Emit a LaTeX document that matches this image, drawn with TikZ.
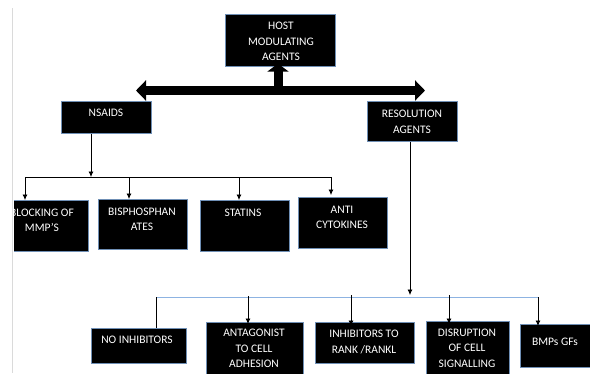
\documentclass[tikz,border=0pt]{standalone}
\usepackage{fontspec}
\setmainfont{Carlito}
\usetikzlibrary{arrows.meta}
\definecolor{edge}{HTML}{6F8FB5}
\definecolor{busblue}{HTML}{8DB3E2}
\definecolor{pagegray}{HTML}{DADADA}

\begin{document}
\begin{tikzpicture}[x=1pt,y=-1pt,
    blk/.style={draw=edge,fill=black,line width=0.6pt,anchor=north west,inner sep=0pt},
    lbl/.style={text=white,align=center,inner sep=0pt,font=\fontsize{11.5}{15.5}\selectfont},
    arr/.style={-{Latex[length=5.5pt,width=5pt]},line width=0.7pt},
    fat/.style={line width=9pt}]
    \useasboundingbox (0,0) rectangle (590,373);
    % page edge
    \draw[pagegray,line width=1.5pt] (12.5,8) -- (12.5,373);
    \begin{scope}
    \clip (14,0) rectangle (590,373);
    % Top box
    \node[blk,minimum width=110pt,minimum height=52pt] (host) at (225,14) {};
    \node[lbl] (hostT) at (281,41.5) {HOST\\MODULATING\\AGENTS};
    % Two way arrow
    \coordinate (al) at (136,90.5);
    \coordinate (ar) at (425,90.5);
    \coordinate (hub) at (278,90.5);
    \draw[fat,{Triangle[width=20pt,length=10pt]}-{Triangle[width=20pt,length=10pt]}] (al) -- (ar);
    \draw[fat,-{Triangle[width=21pt,length=8pt]},shorten >=-3pt] (hub) -- (hub |- host.south);
    % Second level
    \node[blk,minimum width=90pt,minimum height=32pt] (nsaids) at (61,101) {};
    \node[lbl] (nsaidsT) at (106,113) {NSAIDS};
    \node[blk,minimum width=90pt,minimum height=40pt] (resol) at (367,101) {};
    \node[lbl] (resolT) at (412,122) {RESOLUTION\\AGENTS};
    % NSAIDS branch
    \coordinate (n0) at (91,177);
    \coordinate (b1l) at (25,177);
    \coordinate (b1r) at (331,177);
    \coordinate (t1) at (129,177);
    \coordinate (t2) at (239,177);
    \draw[arr] (nsaids.south -| n0) -- (n0);
    \draw[line width=0.7pt] (b1l) -- (b1r);
    \node[blk,minimum width=92pt,minimum height=51pt] (mmp) at (-4,200) {};
    \node[lbl] (mmpT) at (42,220.5) {BLOCKING OF\\MMP’S};
    \node[blk,minimum width=89pt,minimum height=50pt] (bisph) at (98,199) {};
    \node[lbl] (bisphT) at (142,219.5) {BISPHOSPHAN\\ATES};
    \node[blk,minimum width=89pt,minimum height=51pt] (statins) at (200,200) {};
    \node[lbl] (statinsT) at (243,213) {STATINS};
    \node[blk,minimum width=89pt,minimum height=51pt] (anticyto) at (298,197) {};
    \node[lbl] (anticytoT) at (342,217.5) {ANTI\\CYTOKINES};
    \draw[arr] (b1l) -- (b1l |- mmp.north);
    \draw[arr] (t1) -- (t1 |- bisph.north);
    \draw[arr] (t2) -- (t2 |- statins.north);
    \draw[arr] (b1r) -- ([yshift=2pt]b1r |- anticyto.north);
    % Resolution branch
    \coordinate (r0) at (410,295);
    \coordinate (b2l) at (156,297);
    \coordinate (b2r) at (538,297);
    \coordinate (u1) at (248,297);
    \coordinate (u2) at (351,297);
    \coordinate (u3) at (449,297);
    \draw[arr] (resol.south -| r0) -- (r0);
    \draw[busblue,line width=0.9pt] (b2l) -- (b2r);
    \node[blk,minimum width=95pt,minimum height=35pt] (noinh) at (91,328) {};
    \node[lbl] (noinhT) at (137,340) {NO INHIBITORS};
    \node[blk,minimum width=97pt,minimum height=60pt] (antag) at (206,322) {};
    \node[lbl] (antagT) at (254,348.5) {ANTAGONIST\\TO CELL\\ADHESION};
    \node[blk,minimum width=99pt,minimum height=41pt] (rank) at (315,322) {};
    \node[lbl] (rankT) at (364,342) {INHIBITORS TO\\RANK /RANKL};
    \node[blk,minimum width=83pt,minimum height=60pt] (disrupt) at (426,321) {};
    \node[lbl] (disruptT) at (467,348) {DISRUPTION\\OF CELL\\SIGNALLING};
    \node[blk,minimum width=75pt,minimum height=43pt] (bmps) at (520,324) {};
    \node[lbl] (bmpsT) at (555,342) {BMPs GFs};
    \draw[line width=0.7pt] (b2l) -- (b2l |- noinh.north);
    \draw[arr] ([yshift=1pt]u1) -- ([yshift=-2pt]u1 |- antag.north);
    \draw[arr] ([yshift=2pt]u2) -- ([yshift=-4pt]u2 |- rank.north);
    \draw[arr] ([yshift=2pt]u3) -- ([yshift=-3pt]u3 |- disrupt.north);
    \draw[arr] (b2r) -- ([yshift=-2pt]b2r |- bmps.north);
    \end{scope}
\end{tikzpicture}
\end{document}
